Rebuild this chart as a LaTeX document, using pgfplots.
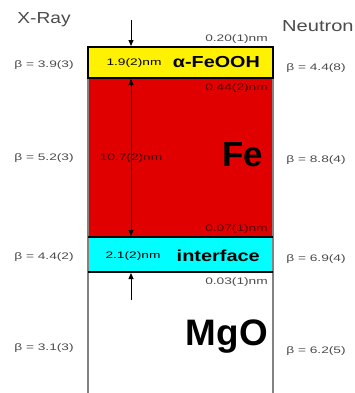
\documentclass[border=0pt]{standalone}
\usepackage{pgfplots}
\pgfplotsset{compat=1.18}
\usepackage{fontspec}
\setmainfont{Liberation Sans}
\usetikzlibrary{arrows.meta}
\definecolor{feRed}{RGB}{225,0,0}
\definecolor{aqua}{RGB}{0,255,255}
\definecolor{txtGray}{RGB}{75,75,75}
\definecolor{sideGray}{RGB}{130,130,130}
\newcommand{\sm}[1]{\scalebox{1.45}[1]{\fontsize{9.5}{10}\selectfont #1}}
\begin{document}
\begin{tikzpicture}[x=1bp,y=1bp]
\begin{axis}[name=ax, scale only axis, width=355bp, height=393bp,
  xmin=0, xmax=355, ymin=0, ymax=393, y dir=reverse, hide axis, clip=false]
% layers
\addplot[draw=none, fill=feRed] coordinates {(88,78)(273,78)(273,237)(88,237)} -- cycle;
\addplot[draw=none, fill=aqua] coordinates {(88,237)(273,237)(273,272)(88,272)} -- cycle;
% gray side lines
\addplot[sideGray, line width=1.3bp] coordinates {(88,78)(88,393)};
\addplot[sideGray, line width=1.3bp] coordinates {(273,78)(273,393)};
\addplot[black, line width=1.4bp, fill=yellow] coordinates {(88,47)(273,47)(273,78)(88,78)} -- cycle;
\addplot[black, line width=1.2bp] coordinates {(88,237)(273,237)};
\addplot[black, line width=1.5bp] coordinates {(88,272)(273,272)};
% arrows
\addplot[black, line width=0.8bp, -{Triangle[length=6bp,width=5bp]}] coordinates {(131,20)(131,46)};
\addplot[black, line width=0.8bp, {Triangle[length=6bp,width=5bp]}-{Triangle[length=6bp,width=5bp]}] coordinates {(131,79)(131,236)};
\addplot[black, line width=0.8bp, -{Triangle[length=6bp,width=5bp]}] coordinates {(131,300)(131,273)};
% texts
\node[text=txtGray, inner sep=0] at (axis cs:44,20) {\scalebox{1.2}[1]{\fontsize{16}{16}\selectfont X-Ray}};
\node[text=txtGray, anchor=west, inner sep=0] at (axis cs:282,26) {\scalebox{1.26}[1]{\fontsize{16}{16}\selectfont Neutron}};
\node[text=txtGray, anchor=east, inner sep=0] at (axis cs:268,39) {\sm{0.20(1)nm}};
\node[text=txtGray, inner sep=0] at (axis cs:44,65) {\sm{β = 3.9(3)}};
\node[text=txtGray, inner sep=0] at (axis cs:316,68) {\sm{β = 4.4(8)}};
\node[inner sep=0] at (axis cs:134,63) {\sm{1.9(2)nm}};
\node[anchor=east, inner sep=0] at (axis cs:260,62) {\scalebox{1.24}[1]{\fontsize{16}{16}\selectfont\bfseries α-FeOOH}};
\node[text=black!60!feRed, anchor=east, inner sep=0] at (axis cs:268,88) {\sm{0.44(2)nm}};
\node[text=txtGray, inner sep=0] at (axis cs:44,158) {\sm{β = 5.2(3)}};
\node[text=txtGray, inner sep=0] at (axis cs:316,160) {\sm{β = 8.8(4)}};
\node[text=black!70!feRed, inner sep=0] at (axis cs:131,158) {\sm{10.7(2)nm}};
\node[font=\fontsize{35}{35}\selectfont\bfseries, anchor=east, inner sep=0] at (axis cs:263,155) {Fe};
\node[text=black!60!feRed, anchor=east, inner sep=0] at (axis cs:268,229) {\sm{0.07(1)nm}};
\node[text=txtGray, inner sep=0] at (axis cs:44,257) {\sm{β = 4.4(2)}};
\node[text=txtGray, inner sep=0] at (axis cs:316,259) {\sm{β = 6.9(4)}};
\node[inner sep=0] at (axis cs:133,256) {\sm{2.1(2)nm}};
\node[anchor=east, inner sep=0] at (axis cs:260,256) {\scalebox{1.25}[1]{\fontsize{16}{16}\selectfont\bfseries interface}};
\node[text=txtGray, anchor=east, inner sep=0] at (axis cs:268,282) {\sm{0.03(1)nm}};
\node[font=\fontsize{37}{37}\selectfont\bfseries, anchor=east, inner sep=0] at (axis cs:268,337) {MgO};
\node[text=txtGray, inner sep=0] at (axis cs:44,348) {\sm{β = 3.1(3)}};
\node[text=txtGray, inner sep=0] at (axis cs:316,351) {\sm{β = 6.2(5)}};
\end{axis}
\pgfresetboundingbox
\path (ax.south west) rectangle (ax.north east);
\end{tikzpicture}
\end{document}
